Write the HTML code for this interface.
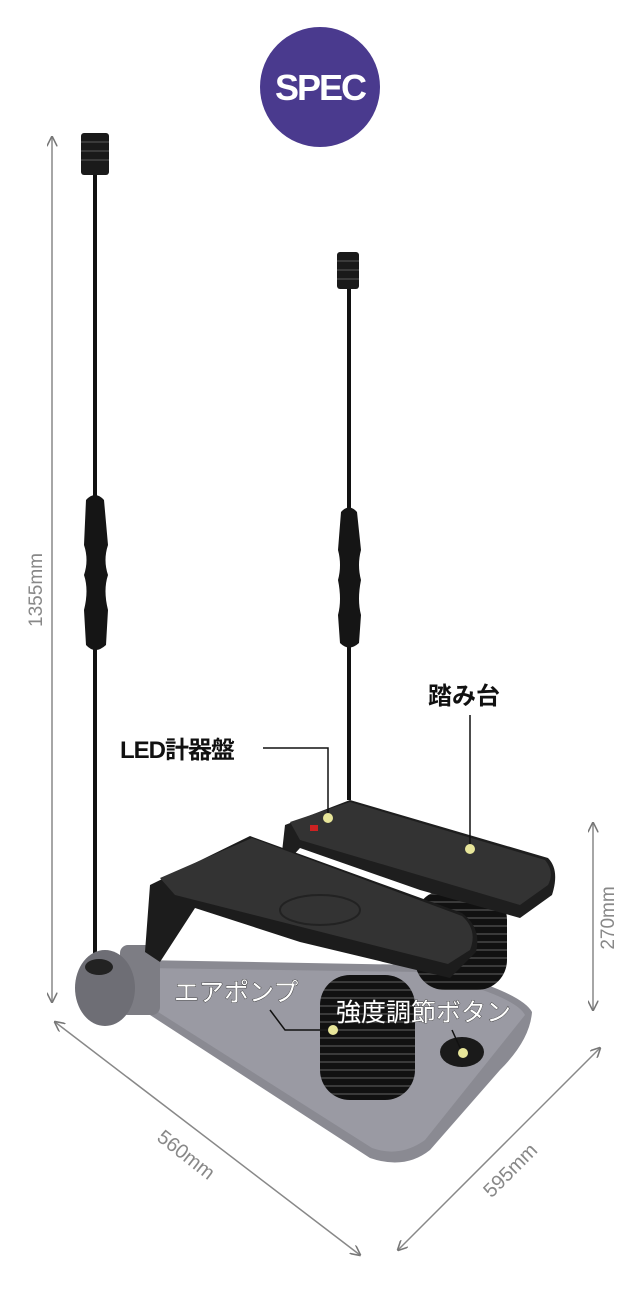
<!DOCTYPE html>
<html><head><meta charset="utf-8"><style>
html,body{margin:0;padding:0;background:#fff}
svg{display:block}
text{font-family:"Liberation Sans","Noto Sans CJK JP",sans-serif}
</style></head><body>
<svg width="640" height="1298" viewBox="0 0 640 1298" xmlns="http://www.w3.org/2000/svg">
<defs>
<marker id="ar" viewBox="0 0 10 10" refX="9" refY="5" markerWidth="7" markerHeight="7" orient="auto-start-reverse"><path d="M0,0 L10,5 L0,10" fill="none" stroke="#777" stroke-width="1.5"/></marker>
<pattern id="spr" width="10" height="8" patternUnits="userSpaceOnUse"><rect width="10" height="8" fill="#111"/><rect y="5" width="10" height="2" fill="#3a3a3a"/></pattern>
</defs>
<circle cx="320" cy="87" r="60" fill="#4a3a8e"/>
<text x="320" y="100" font-size="36" font-weight="bold" fill="#fff" text-anchor="middle" letter-spacing="-2">SPEC</text>

<line x1="52" y1="137" x2="52" y2="1002" stroke="#888" stroke-width="1.5" marker-start="url(#ar)" marker-end="url(#ar)"/>
<text transform="translate(42,590) rotate(-90)" font-size="19" fill="#888" text-anchor="middle">1355mm</text>
<line x1="593" y1="823" x2="593" y2="1010" stroke="#888" stroke-width="1.5" marker-start="url(#ar)" marker-end="url(#ar)"/>
<text transform="translate(614,918) rotate(-90)" font-size="19" fill="#888" text-anchor="middle">270mm</text>
<line x1="55" y1="1022" x2="360" y2="1255" stroke="#888" stroke-width="1.5" marker-start="url(#ar)" marker-end="url(#ar)"/>
<text transform="translate(182,1160) rotate(38)" font-size="20" fill="#888" text-anchor="middle">560mm</text>
<line x1="600" y1="1048" x2="398" y2="1250" stroke="#888" stroke-width="1.5" marker-start="url(#ar)" marker-end="url(#ar)"/>
<text transform="translate(515,1175) rotate(-45)" font-size="20" fill="#888" text-anchor="middle">595mm</text>

<rect x="93" y="170" width="4" height="795" fill="#111"/>
<rect x="81" y="133" width="28" height="42" rx="3" fill="#1a1a1a"/>
<g stroke="#444" stroke-width="1.5"><line x1="81" y1="142" x2="109" y2="142"/><line x1="81" y1="151" x2="109" y2="151"/><line x1="81" y1="160" x2="109" y2="160"/></g>
<path d="M86,500 Q95,490 104,500 L108,545 Q103,560 108,575 Q103,590 108,610 L106,645 Q95,655 86,645 L84,610 Q89,590 84,575 Q89,560 84,545 Z" fill="#151515"/>
<rect x="347" y="285" width="4" height="515" fill="#111"/>
<rect x="337" y="252" width="22" height="37" rx="3" fill="#1a1a1a"/>
<g stroke="#444" stroke-width="1.5"><line x1="337" y1="261" x2="359" y2="261"/><line x1="337" y1="270" x2="359" y2="270"/><line x1="337" y1="279" x2="359" y2="279"/></g>
<path d="M341,512 Q349,503 357,512 L361,550 Q357,565 361,580 Q357,600 361,615 L359,643 Q349,652 340,643 L338,615 Q342,600 338,580 Q342,565 338,550 Z" fill="#151515"/>

<path d="M140,960 L420,965 Q520,990 532,1012 Q530,1040 500,1070 L430,1150 Q405,1170 370,1158 L150,1015 Z" fill="#8a8a92"/>
<path d="M145,968 L420,972 Q515,995 525,1015 L425,1140 Q400,1158 372,1148 L155,1010 Z" fill="#9a9aa3"/>
<rect x="120" y="945" width="40" height="70" rx="8" fill="#7d7d84"/>
<ellipse cx="105" cy="988" rx="30" ry="38" fill="#6e6e75"/>
<ellipse cx="99" cy="967" rx="14" ry="8" fill="#222"/>
<rect x="415" y="890" width="92" height="100" rx="30" fill="url(#spr)"/>
<rect x="320" y="975" width="95" height="125" rx="30" fill="url(#spr)"/>
<ellipse cx="462" cy="1052" rx="22" ry="15" fill="#1a1a1a"/>
<path d="M285,825 L350,800 L548,858 Q560,870 552,895 L520,918 L420,890 L300,848 L280,870 Z" fill="#1e1e1e"/>
<path d="M290,822 L350,802 L545,860 Q555,872 548,885 L520,905 L300,840 Z" fill="#333"/>
<rect x="310" y="825" width="8" height="6" fill="#c22"/>
<path d="M150,885 L250,836 L462,913 Q482,928 476,952 L450,978 L300,942 L195,908 L160,962 L145,952 Z" fill="#1c1c1c"/>
<path d="M160,878 L252,838 L462,916 Q478,930 470,950 L448,964 L175,895 Z" fill="#333"/>
<ellipse cx="320" cy="910" rx="40" ry="15" fill="none" stroke="#222" stroke-width="2"/>

<line x1="470" y1="715" x2="470" y2="848" stroke="#111" stroke-width="1.5"/>
<circle cx="470" cy="849" r="5" fill="#e8e69a"/>
<text x="428" y="704" font-size="24" font-weight="bold" fill="#111">踏み台</text>
<polyline points="263,748 328,748 328,818" fill="none" stroke="#111" stroke-width="1.5"/>
<circle cx="328" cy="818" r="5" fill="#e8e69a"/>
<text x="120" y="758" font-size="24" font-weight="bold" fill="#111" letter-spacing="-1">LED計器盤</text>
<polyline points="270,1010 285,1030 330,1030" fill="none" stroke="#111" stroke-width="1.5"/>
<circle cx="333" cy="1030" r="5" fill="#e8e69a"/>
<line x1="452" y1="1030" x2="462" y2="1052" stroke="#111" stroke-width="1.5"/>
<circle cx="463" cy="1053" r="5" fill="#e8e69a"/>
<text x="174" y="1001" font-size="25" fill="#fff" stroke="#333" stroke-width="0.8" paint-order="stroke">エアポンプ</text>
<text x="336" y="1021" font-size="25" fill="#fff" stroke="#333" stroke-width="0.8" paint-order="stroke">強度調節ボタン</text>
</svg>
</body></html>
